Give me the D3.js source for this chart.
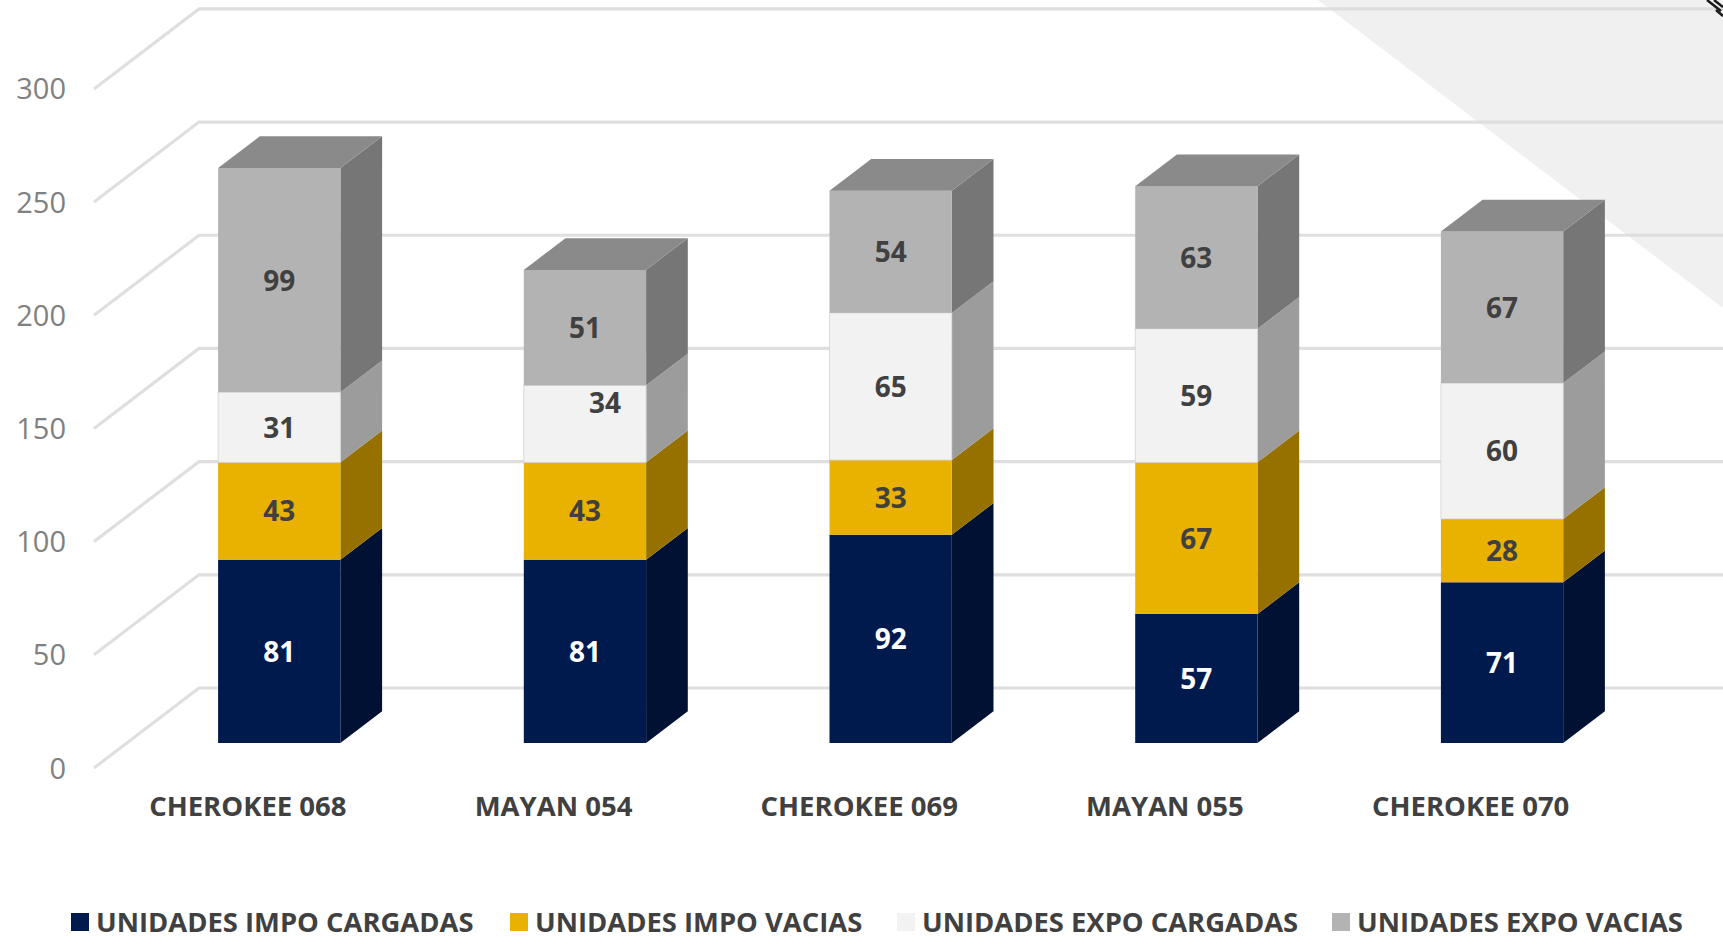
<!DOCTYPE html>
<html>
<head>
<meta charset="utf-8">
<script src="https://cdnjs.cloudflare.com/ajax/libs/d3/7.8.5/d3.min.js"></script>
<style>
    html, body { margin: 0; padding: 0; background: #fff; }
    svg { display: block; }
    text { font-family: "Open Sans", sans-serif; }
</style>
</head>
<body>
<div id="chart"></div>
<script>
const categories = ['CHEROKEE 068', 'MAYAN 054', 'CHEROKEE 069', 'MAYAN 055', 'CHEROKEE 070'];
const seriesNames = ['UNIDADES IMPO CARGADAS', 'UNIDADES IMPO VACIAS', 'UNIDADES EXPO CARGADAS', 'UNIDADES EXPO VACIAS'];
const impoCargadas = [81, 81, 92, 57, 71];
const impoVacias = [43, 43, 33, 67, 28];
const expoCargadas = [31, 34, 65, 59, 60];
const expoVacias = [99, 51, 54, 63, 67];
const yTicks = [0, 50, 100, 150, 200, 250, 300];

const width = 1723;
const height = 937;

const frontColors = ['#001a4e', '#eab200', '#f2f2f2', '#b3b3b3'];
const sideColors = ['#001133', '#967100', '#9c9c9c', '#767676'];
const topColor = '#8a8a8a';
const labelColors = ['#ffffff', '#404040', '#404040', '#404040'];

//3d offsets of the floor
const floorDx = 105;
const floorDy = -80;
const barGapDx = 31.4;
const barGapDy = -25;
const barDepthDx = 41.7;
const barDepthDy = -31.7;

const svg = d3.select('#chart')
    .append('svg')
    .attr('width', width)
    .attr('height', height);

//scales
const x = d3.scaleBand()
    .domain(categories)
    .range([95, 1623.5]);
const y = d3.scaleLinear()
    .domain([0, 300])
    .range([768, 88.9]);

//corner triangle
svg.append('path')
    .attr('d', d3.line()([[1318, 0], [width, 0], [width, 308]]))
    .attr('fill', '#f0f0f0');

//grid lines
const grid = svg.append('g').attr('fill', 'none');
yTicks.forEach(t => {
    grid.append('path')
        .attr('d', d3.line()([
            [94, y(t)],
            [94 + floorDx, y(t) + floorDy],
            [width, y(t) + floorDy]
        ]))
        .attr('stroke', '#dcdcdc')
        .attr('stroke-opacity', 0.9)
        .attr('stroke-width', 3.2);
});

//corner mark, only a bit of it is in the picture
svg.append('g')
    .attr('stroke', '#1a1a1a')
    .attr('stroke-width', 2.5)
    .attr('fill', 'none')
    .selectAll('path')
    .data([
        [[1707, 0], [1721, 11]],
        [[1714, 0], [1723, 7]],
        [[1716, 10], [1723, 16]]
    ])
    .join('path')
    .attr('d', d => d3.line()(d));

//y axis labels
svg.append('g')
    .selectAll('text')
    .data(yTicks)
    .join('text')
    .attr('x', 66)
    .attr('y', d => y(d) + 10.5)
    .attr('text-anchor', 'end')
    .attr('font-size', 29)
    .attr('fill', '#808080')
    .text(d => d);

//stacked bars
const rows = categories.map((c, i) => ({
    category: c,
    a: impoCargadas[i],
    b: impoVacias[i],
    c: expoCargadas[i],
    d: expoVacias[i]
}));
const stacks = d3.stack().keys(['a', 'b', 'c', 'd'])(rows);
const barWidth = 122.3;
const line = d3.line();
const barCenter = seg => x(seg.data.category) + x.bandwidth() / 2 + barGapDx;

const bars = svg.append('g');
stacks.forEach((layer, s) => {
    layer.forEach(seg => {
        const x0 = barCenter(seg) - barWidth / 2;
        const x1 = x0 + barWidth;
        const y0 = y(seg[0]) + barGapDy;
        const y1 = y(seg[1]) + barGapDy;

        //side
        bars.append('path')
            .attr('d', line([
                [x1, y0],
                [x1 + barDepthDx, y0 + barDepthDy],
                [x1 + barDepthDx, y1 + barDepthDy],
                [x1, y1]
            ]) + 'Z')
            .attr('fill', sideColors[s]);

        //front, the light segment needs an edge to stand off the page
        bars.append('rect')
            .attr('x', x0)
            .attr('y', y1)
            .attr('width', barWidth)
            .attr('height', y0 - y1)
            .attr('fill', frontColors[s])
            .attr('stroke', s === 2 ? '#d4d4d4' : 'none')
            .attr('stroke-width', 0.8);

        //top of the stack
        if (s === stacks.length - 1) {
            bars.append('path')
                .attr('d', line([
                    [x0, y1],
                    [x0 + barDepthDx, y1 + barDepthDy],
                    [x1 + barDepthDx, y1 + barDepthDy],
                    [x1, y1]
                ]) + 'Z')
                .attr('fill', topColor);
        }
    });
});

//data labels, 34 was dragged out of place in the original
const labels = svg.append('g');
stacks.forEach((layer, s) => {
    layer.forEach(seg => {
        const moved = s === 2 && seg.data.category === 'MAYAN 054';
        labels.append('text')
            .attr('x', barCenter(seg) + (moved ? 20 : 0))
            .attr('y', (y(seg[0]) + y(seg[1])) / 2 + barGapDy + 10.5 - (moved ? 21 : 0))
            .attr('text-anchor', 'middle')
            .attr('font-size', 28)
            .attr('font-weight', 700)
            .attr('fill', labelColors[s])
            .text(seg[1] - seg[0]);
    });
});

//category labels
svg.append('g')
    .selectAll('text')
    .data(categories)
    .join('text')
    .attr('x', d => x(d) + x.bandwidth() / 2)
    .attr('y', 816)
    .attr('text-anchor', 'middle')
    .attr('font-size', 27.5)
    .attr('font-weight', 700)
    .attr('fill', '#404040')
    .text(d => d);

//legend
const legendX = [71, 510, 897, 1332];
const legend = svg.append('g')
    .selectAll('g')
    .data(seriesNames)
    .join('g')
    .attr('transform', (d, i) => `translate(${legendX[i]},913)`);
legend.append('rect')
    .attr('width', 18)
    .attr('height', 18)
    .attr('fill', (d, i) => frontColors[i]);
legend.append('text')
    .attr('x', 25)
    .attr('y', 19)
    .attr('font-size', 27.4)
    .attr('font-weight', 700)
    .attr('fill', '#404040')
    .text(d => d);
</script>
</body>
</html>
